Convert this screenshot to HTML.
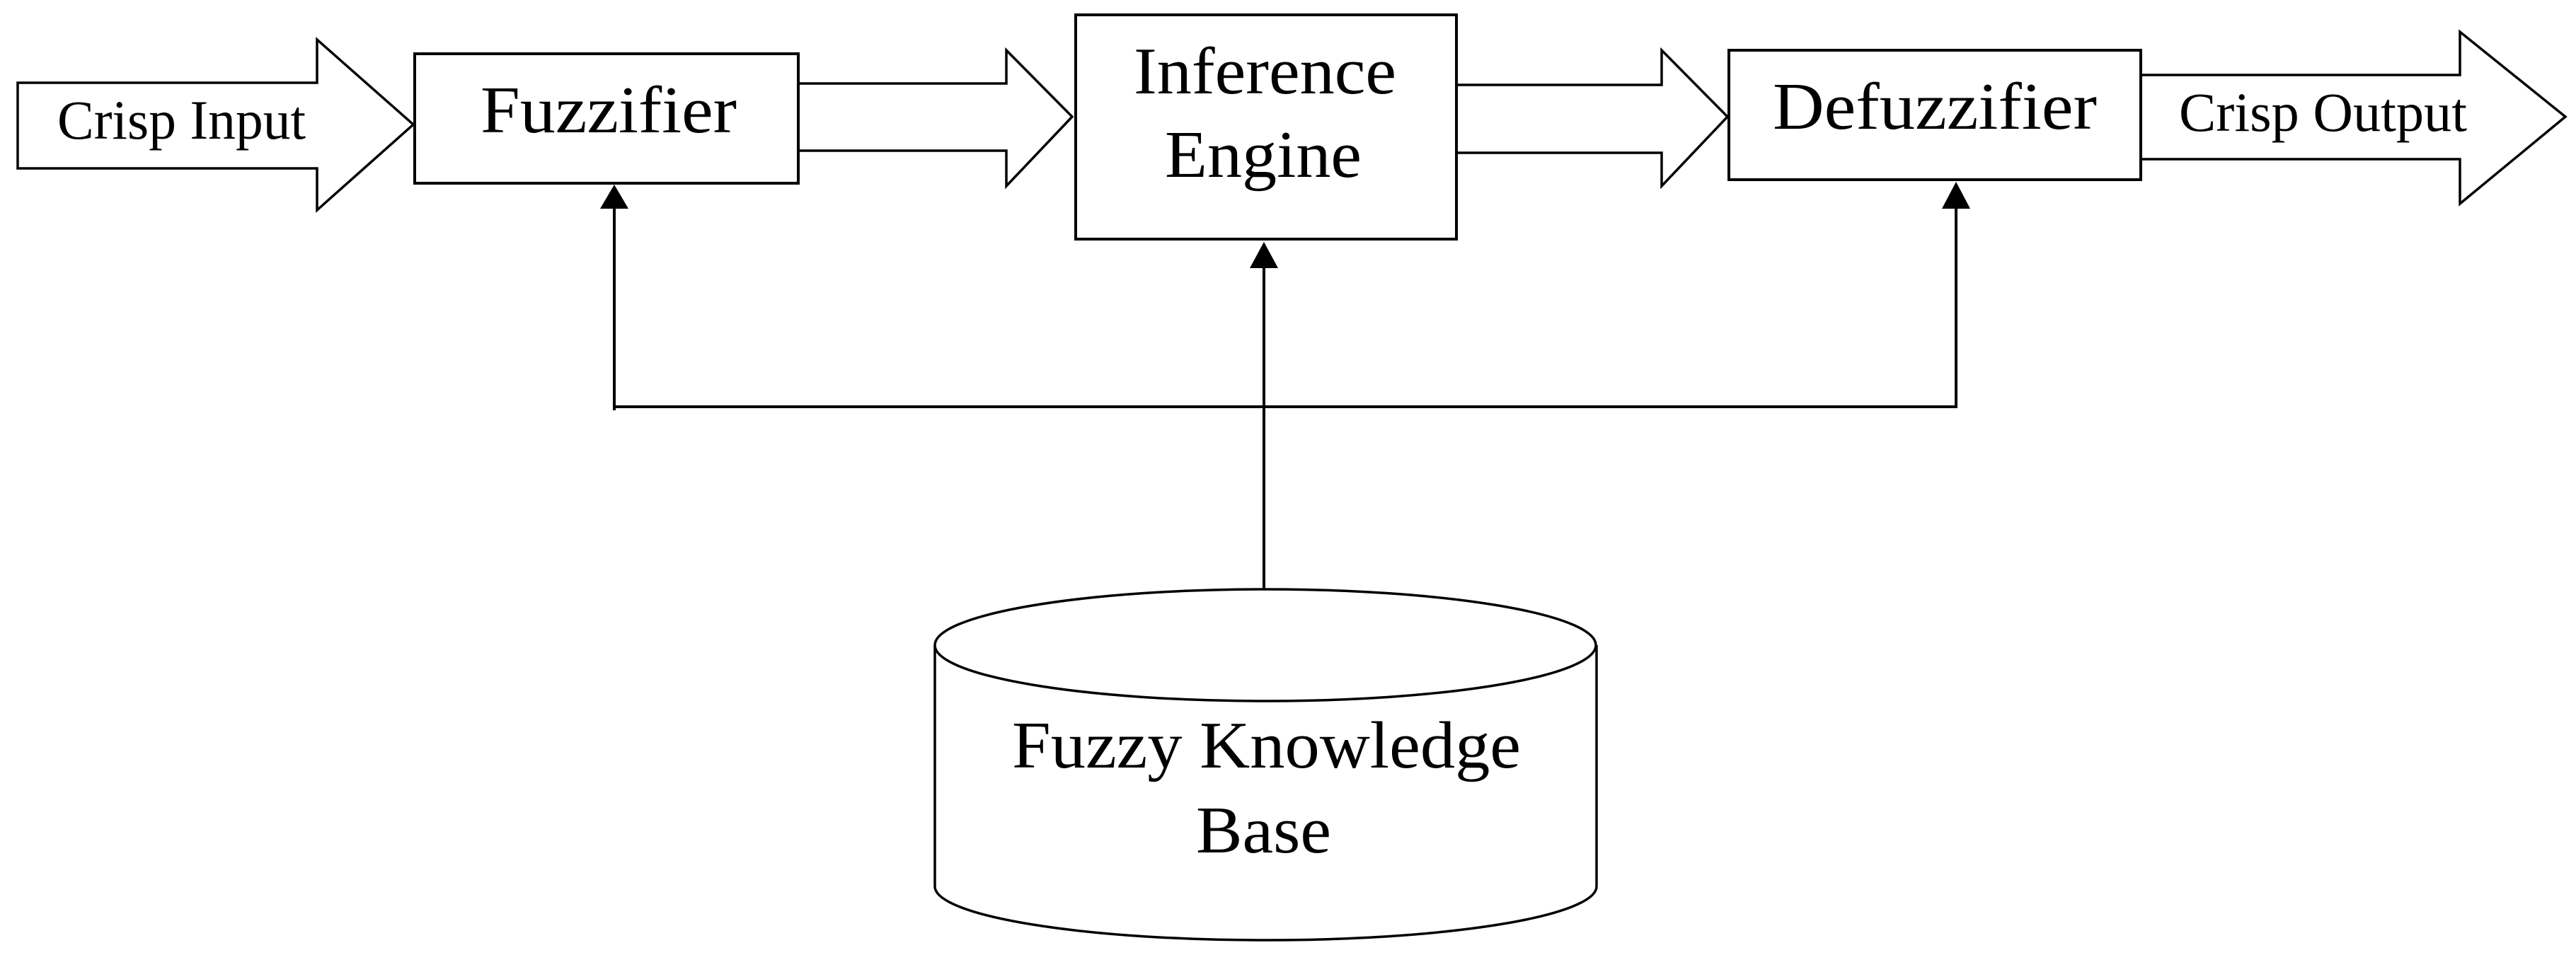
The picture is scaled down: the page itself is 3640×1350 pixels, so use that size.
<!DOCTYPE html>
<html><head><meta charset="utf-8"><style>html,body{margin:0;padding:0;background:#fff}svg{display:block}</style></head>
<body>
<svg width="3640" height="1350" viewBox="0 0 3640 1350" xmlns="http://www.w3.org/2000/svg" font-family="'Liberation Serif', serif" fill="#000">
<rect width="3640" height="1350" fill="#fff"/>
<g fill="#fff" stroke="#000" stroke-width="3.5" stroke-linejoin="miter">
<!-- input arrow -->
<polygon points="25,117 448,117 448,56 584,176 448,297 448,238 25,238"/>
<!-- arrow 2 -->
<polyline points="1128,118 1422,118 1422,71 1515,165 1422,263 1422,213 1128,213" />
<!-- arrow 3 -->
<polyline points="2058,120 2348,120 2348,71 2441,165 2348,263 2348,216 2058,216" />
<!-- output arrow -->
<polyline points="3025,106 3476,106 3476,45 3625,165 3476,288 3476,225 3025,225" />
<!-- boxes -->
<rect x="586" y="76" width="542" height="183" stroke-width="4"/>
<rect x="1520" y="21" width="538" height="317" stroke-width="4"/>
<rect x="2443" y="71" width="582" height="183" stroke-width="4"/>
</g>
<!-- connectors -->
<g stroke="#000" stroke-width="4" fill="none">
<line x1="868" y1="290" x2="868" y2="580"/>
<line x1="868" y1="575" x2="2764" y2="575"/>
<line x1="2764" y1="290" x2="2764" y2="577"/>
<line x1="1786" y1="375" x2="1786" y2="835"/>
</g>
<polygon points="868,261 848,295 888,295"/>
<polygon points="2764,257 2744,295 2784,295"/>
<polygon points="1786,342 1766,379 1806,379"/>
<!-- cylinder -->
<g fill="#fff" stroke="#000" stroke-width="3.5">
<path d="M1321,912 L1321,1253 A467,76 0 0 0 2256,1253 L2256,912"/>
<ellipse cx="1788" cy="912" rx="467" ry="79"/>
</g>
<!-- labels -->
<text x="81" y="196" font-size="78" textLength="351" lengthAdjust="spacingAndGlyphs">Crisp Input</text>
<text x="679" y="187" font-size="94" textLength="362" lengthAdjust="spacingAndGlyphs">Fuzzifier</text>
<text x="1602" y="132" font-size="94" textLength="371" lengthAdjust="spacingAndGlyphs">Inference</text>
<text x="1646" y="250" font-size="94" textLength="278" lengthAdjust="spacingAndGlyphs">Engine</text>
<text x="2505" y="182" font-size="94" textLength="458" lengthAdjust="spacingAndGlyphs">Defuzzifier</text>
<text x="3079" y="185" font-size="78" textLength="407" lengthAdjust="spacingAndGlyphs">Crisp Output</text>
<text x="1430" y="1085" font-size="94" textLength="719" lengthAdjust="spacingAndGlyphs">Fuzzy Knowledge</text>
<text x="1690" y="1205" font-size="94" textLength="191" lengthAdjust="spacingAndGlyphs">Base</text>
</svg>
</body></html>
